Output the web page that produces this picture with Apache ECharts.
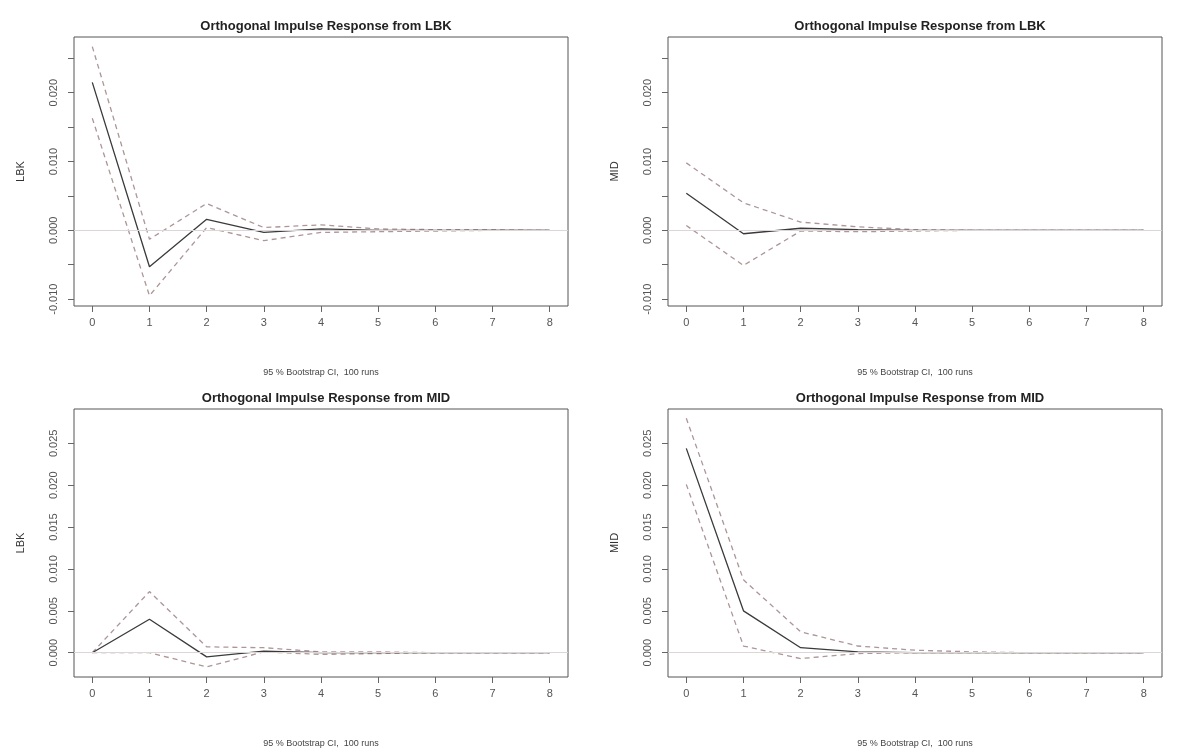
<!DOCTYPE html>
<html>
<head>
<meta charset="utf-8">
<title>Orthogonal Impulse Response</title>
<script src="https://cdn.jsdelivr.net/npm/echarts@6/dist/echarts.min.js"></script>
<style>
  html, body { margin: 0; padding: 0; background: #fff; }
  #chart { width: 1196px; height: 754px; }
</style>
</head>
<body>
<div id="chart"></div>
<script>
// horizons (steps ahead)
var horizons = [0, 1, 2, 3, 4, 5, 6, 7, 8];
var xTicks = [0, 1, 2, 3, 4, 5, 6, 7, 8];

// impulse LBK -> response LBK
var lbkLbkIrf   = [0.0215, -0.0053, 0.0016, -0.0003, 0.0002, 0.0000, 0.0000, 0.0000, 0.0000];
var lbkLbkUpper = [0.0267, -0.0013, 0.0039, 0.0004, 0.0008, 0.0002, 0.0001, 0.0001, 0.0000];
var lbkLbkLower = [0.0163, -0.0095, 0.0004, -0.0015, -0.0003, -0.0002, -0.0001, 0.0000, 0.0000];

// impulse LBK -> response MID
var lbkMidIrf   = [0.0054, -0.0005, 0.0003, 0.0001, 0.0000, 0.0000, 0.0000, 0.0000, 0.0000];
var lbkMidUpper = [0.0098, 0.0040, 0.0012, 0.0005, 0.0001, 0.0000, 0.0000, 0.0000, 0.0000];
var lbkMidLower = [0.0007, -0.0051, -0.0001, -0.0002, -0.0001, 0.0000, 0.0000, 0.0000, 0.0000];

// impulse MID -> response LBK
var midLbkIrf   = [0.0000, 0.0040, -0.0005, 0.0002, 0.0000, 0.0000, 0.0000, 0.0000, 0.0000];
var midLbkUpper = [0.0000, 0.0073, 0.0007, 0.0006, 0.0001, 0.0001, 0.0000, 0.0000, 0.0000];
var midLbkLower = [0.0000, 0.0000, -0.0017, 0.0001, -0.0002, -0.0001, 0.0000, 0.0000, 0.0000];

// impulse MID -> response MID
var midMidIrf   = [0.0244, 0.0050, 0.0006, 0.0001, 0.0000, 0.0000, 0.0000, 0.0000, 0.0000];
var midMidUpper = [0.0280, 0.0087, 0.0025, 0.0008, 0.0003, 0.0001, 0.0000, 0.0000, 0.0000];
var midMidLower = [0.0201, 0.0008, -0.0007, -0.0001, 0.0000, 0.0000, 0.0000, 0.0000, 0.0000];

// y tick marks / labels
var topTicks = [-0.010, -0.005, 0.000, 0.005, 0.010, 0.015, 0.020, 0.025];
var topLabels = [-0.010, 0.000, 0.010, 0.020];
var bottomTicks = [0.000, 0.005, 0.010, 0.015, 0.020, 0.025];
var bottomLabels = [0.000, 0.005, 0.010, 0.015, 0.020, 0.025];

var ciText = '95 % Bootstrap CI,  100 runs';
var font = '"Liberation Sans", Arial, sans-serif';

var panels = [
  { title: 'Orthogonal Impulse Response from LBK', yName: 'LBK', left: 74, top: 37, height: 269,
    yMin: -0.0110, yMax: 0.0281, ticks: topTicks, labels: topLabels,
    irf: lbkLbkIrf, upper: lbkLbkUpper, lower: lbkLbkLower },
  { title: 'Orthogonal Impulse Response from LBK', yName: 'MID', left: 668, top: 37, height: 269,
    yMin: -0.0110, yMax: 0.0281, ticks: topTicks, labels: topLabels,
    irf: lbkMidIrf, upper: lbkMidUpper, lower: lbkMidLower },
  { title: 'Orthogonal Impulse Response from MID', yName: 'LBK', left: 74, top: 409, height: 268,
    yMin: -0.0029, yMax: 0.0291, ticks: bottomTicks, labels: bottomLabels,
    irf: midLbkIrf, upper: midLbkUpper, lower: midLbkLower },
  { title: 'Orthogonal Impulse Response from MID', yName: 'MID', left: 668, top: 409, height: 268,
    yMin: -0.0029, yMax: 0.0291, ticks: bottomTicks, labels: bottomLabels,
    irf: midMidIrf, upper: midMidUpper, lower: midMidLower }
];
var boxWidth = 494;

function pairs(vals) {
  return horizons.map(function (h, k) { return [h, vals[k]]; });
}

var option = {
  backgroundColor: '#fff',
  animation: false,
  title: [], grid: [], xAxis: [], yAxis: [], series: []
};

panels.forEach(function (p, i) {
  option.title.push({
    text: p.title,
    left: p.left + boxWidth / 2,
    top: p.top - 22,
    textAlign: 'center',
    textStyle: { fontFamily: font, fontSize: 13, fontWeight: 'bold', color: '#222' }
  });
  option.grid.push({
    left: p.left, top: p.top, width: boxWidth, height: p.height,
    show: true, borderColor: '#555', borderWidth: 1, backgroundColor: 'transparent',
    containLabel: false, outerBoundsMode: 'none'
  });
  option.xAxis.push({
    type: 'value', gridIndex: i, min: -0.32, max: 8.32, position: 'bottom',
    axisLine: { show: false, onZero: false },
    axisTick: { show: true, customValues: xTicks, length: 6, lineStyle: { color: '#666' } },
    axisLabel: { customValues: xTicks, color: '#555', fontFamily: font, fontSize: 11, margin: 11 },
    splitLine: { show: false },
    name: ciText, nameLocation: 'middle', nameGap: 62,
    nameTextStyle: { fontFamily: font, fontSize: 9, color: '#444' }
  });
  option.yAxis.push({
    type: 'value', gridIndex: i, min: p.yMin, max: p.yMax, position: 'left',
    axisLine: { show: false, onZero: false },
    axisTick: { show: true, customValues: p.ticks, length: 6, lineStyle: { color: '#666' } },
    axisLabel: {
      customValues: p.labels, rotate: 90, color: '#555', fontFamily: font, fontSize: 11, margin: 15,
      formatter: function (v) { return v.toFixed(3); }
    },
    splitLine: { show: false },
    name: p.yName, nameLocation: 'middle', nameGap: 48, nameRotate: 90,
    nameTextStyle: { fontFamily: font, fontSize: 11, color: '#333' }
  });
  option.series.push({
    type: 'line', xAxisIndex: i, yAxisIndex: i, data: pairs(p.irf),
    symbol: 'none', clip: false, z: 3,
    lineStyle: { color: '#3a3a3a', width: 1.3, type: 'solid' },
    markLine: {
      silent: true, symbol: 'none', label: { show: false },
      lineStyle: { color: '#dcd6d6', width: 1.2, type: 'solid' },
      data: [{ yAxis: 0 }]
    }
  });
  option.series.push({
    type: 'line', xAxisIndex: i, yAxisIndex: i, data: pairs(p.upper),
    symbol: 'none', clip: false, z: 2,
    lineStyle: { color: '#ad9598', width: 1.3, type: [5, 4] }
  });
  option.series.push({
    type: 'line', xAxisIndex: i, yAxisIndex: i, data: pairs(p.lower),
    symbol: 'none', clip: false, z: 2,
    lineStyle: { color: '#ad9598', width: 1.3, type: [5, 4] }
  });
});

var chart = echarts.init(document.getElementById('chart'), null, { renderer: 'canvas' });
chart.setOption(option);
</script>
</body>
</html>
